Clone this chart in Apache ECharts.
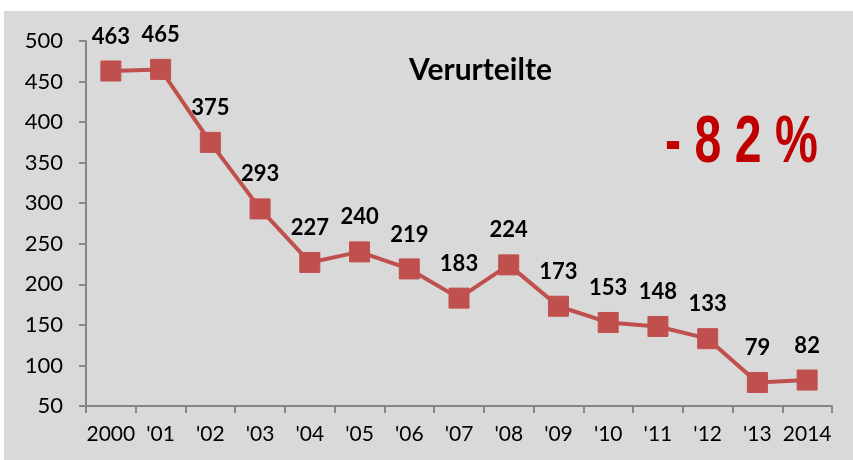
<!DOCTYPE html>
<html>
<head>
<meta charset="utf-8">
<script src="https://cdn.jsdelivr.net/npm/echarts@6/dist/echarts.min.js"></script>
<style>
  html, body { margin: 0; padding: 0; background: #fff; }
  #chart { width: 853px; height: 460px; }
</style>
</head>
<body>
<div id="chart"></div>
<script>
// Verurteilte pro Jahr
var years = ["2000", "'01", "'02", "'03", "'04", "'05", "'06", "'07", "'08", "'09", "'10", "'11", "'12", "'13", "2014"];
var convicted = [463, 465, 375, 293, 227, 240, 219, 183, 224, 173, 153, 148, 133, 79, 82];
var chartTitle = "Verurteilte";
var changeText = "- 8 2 %";

var myChart = echarts.init(document.getElementById("chart"), null, { renderer: "canvas" });
var font = "Lato, 'Open Sans', sans-serif";

var options = {
  animation: false,
  graphic: [
    {
      type: "rect",
      z: -10,
      shape: { x: 4, y: 11, width: 849, height: 449 },
      style: { fill: "#d9d9d9" },
      silent: true
    },
    {
      type: "text",
      x: 409,
      y: 55,
      style: { text: chartTitle, fontSize: 30, fontWeight: "bold", fill: "#000", fontFamily: font, textVerticalAlign: "top" }
    },
    {
      type: "text",
      x: 665,
      y: 110,
      scaleX: 0.72,
      style: {
        text: changeText,
        fontSize: 67,
        fontWeight: "bold",
        fill: "#c00000",
        fontFamily: "'Liberation Sans', sans-serif",
        textVerticalAlign: "top"
      }
    }
  ],
  grid: { left: 86, right: 21, top: 41, bottom: 54 },
  xAxis: {
    type: "category",
    data: years,
    boundaryGap: true,
    axisLine: { lineStyle: { color: "#868686", width: 2 } },
    axisTick: { show: true, length: 7, lineStyle: { color: "#868686", width: 2 } },
    axisLabel: { color: "#000", fontSize: 21, fontFamily: font, margin: 18, interval: 0 }
  },
  yAxis: {
    type: "value",
    min: 50,
    max: 500,
    interval: 50,
    splitLine: { show: false },
    axisLine: { show: true, lineStyle: { color: "#868686", width: 2 } },
    axisTick: { show: true, length: 7, lineStyle: { color: "#868686", width: 2 } },
    axisLabel: { color: "#000", fontSize: 22, fontFamily: font, margin: 23 }
  },
  series: [
    {
      name: chartTitle,
      type: "line",
      data: convicted,
      symbol: "rect",
      symbolSize: 20,
      lineStyle: { color: "#c0504d", width: 4 },
      itemStyle: { color: "#c0504d", borderColor: "#c0504d" },
      label: {
        show: true,
        position: "top",
        distance: 13,
        color: "#000",
        fontSize: 22,
        fontWeight: "bold",
        fontFamily: font
      }
    }
  ]
};
myChart.setOption(options);
</script>
</body>
</html>
